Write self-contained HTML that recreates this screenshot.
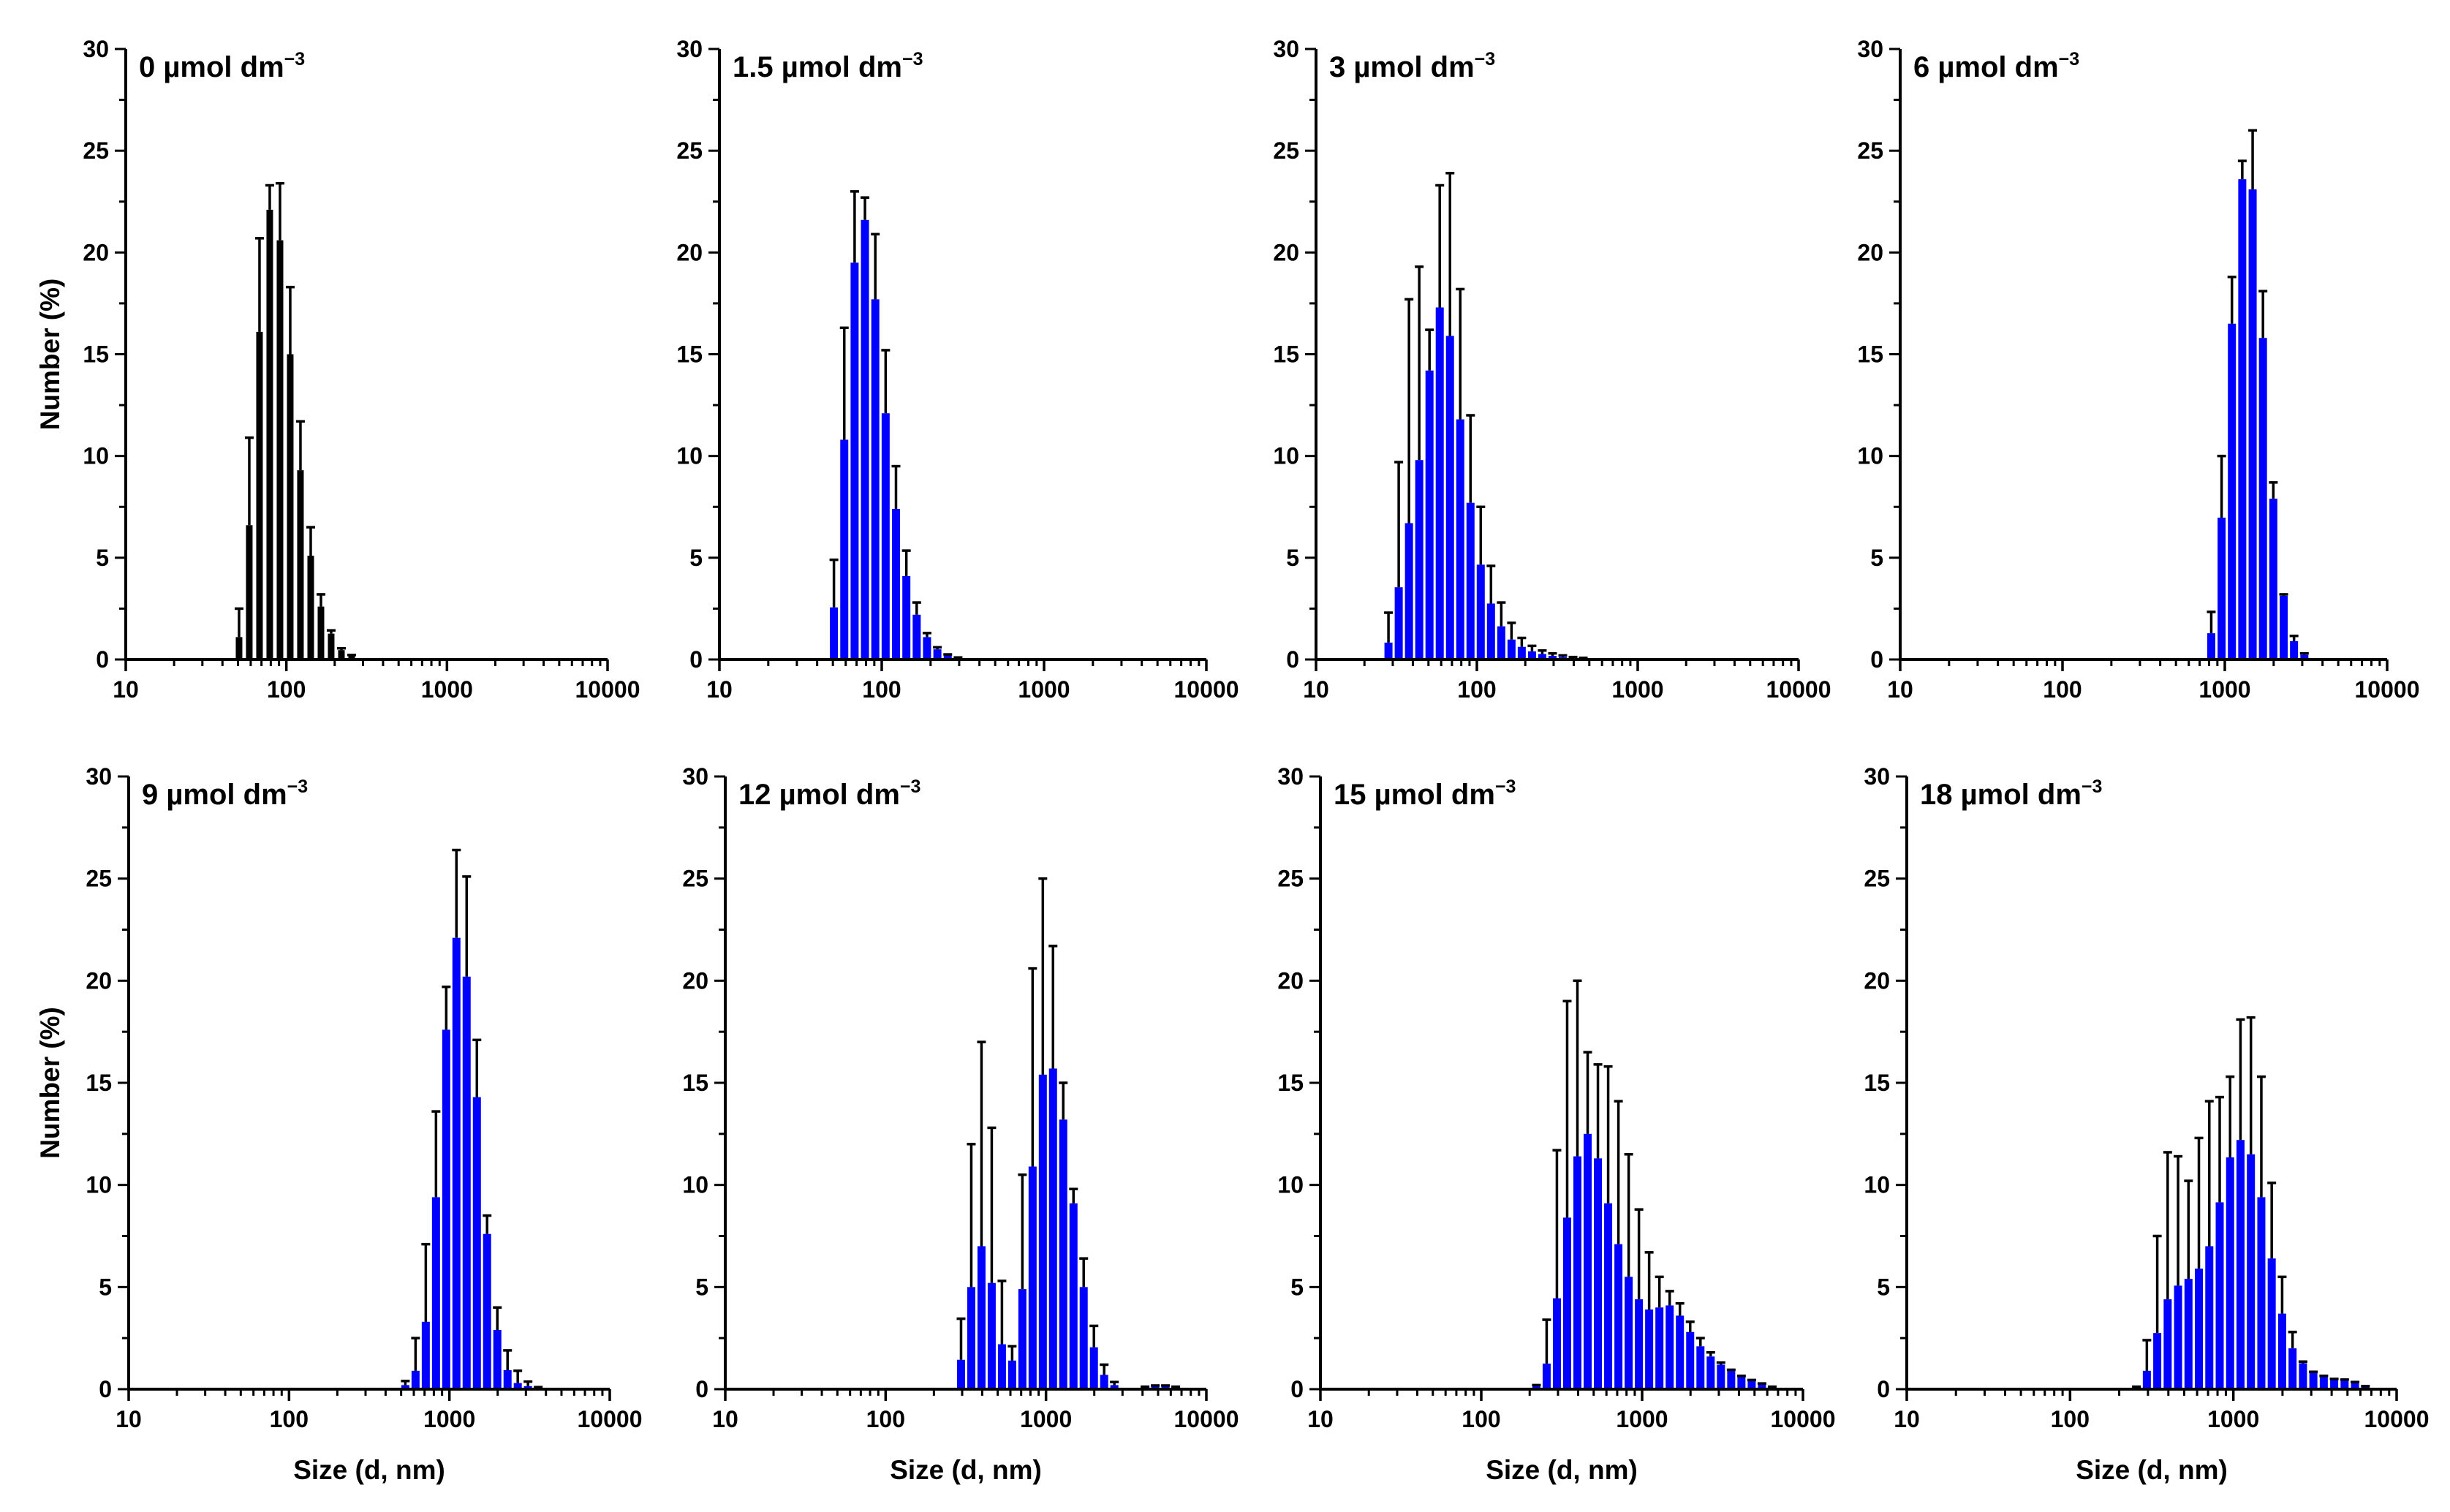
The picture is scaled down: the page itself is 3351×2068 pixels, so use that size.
<!DOCTYPE html>
<html><head><meta charset="utf-8"><style>
html,body{margin:0;padding:0;background:#fff;}
svg{display:block;font-family:"Liberation Sans",Arial,sans-serif;font-weight:bold;}
</style></head><body>
<svg id="fig" width="3351" height="2068" viewBox="0 0 3351 2068" xmlns="http://www.w3.org/2000/svg"></svg>
<script>
// ---- data (size bins in nm, Number %, upper error-bar values) ----
const p1Sizes=[50.75,58.77,68.06,78.82,91.28,105.7,122.4,141.8,164.2,190.1,220.2,255.0,295.3];
const p1Values=[1.1,6.6,16.1,22.1,20.6,15.0,9.3,5.1,2.6,1.27,0.46,0.2,0.05];
const p1Upper=[2.5,10.9,20.7,23.3,23.4,18.3,11.7,6.5,3.2,1.43,0.55,0.22,0.05];

const p2Sizes=[50.75,58.77,68.06,78.82,91.28,105.7,122.4,141.8,164.2,190.1,220.2,255.0,295.3];
const p2Values=[2.56,10.8,19.5,21.6,17.7,12.1,7.4,4.1,2.2,1.1,0.5,0.2,0.1];
const p2Upper=[4.9,16.3,23.0,22.7,20.9,15.2,9.5,5.35,2.8,1.3,0.6,0.25,0.1];

const p3Sizes=[28.21,32.67,37.84,43.82,50.75,58.77,68.06,78.82,91.28,105.7,122.4,141.8,164.2,190.1,220.2,255.0,295.3,342.0,396.1,458.7,531.2];
const p3Values=[0.83,3.55,6.7,9.8,14.2,17.3,15.9,11.8,7.7,4.66,2.75,1.63,0.98,0.62,0.4,0.27,0.18,0.12,0.09,0.06,0.03];
const p3Upper=[2.3,9.7,17.7,19.3,16.2,23.3,23.9,18.2,12.0,7.5,4.6,2.8,1.8,1.06,0.67,0.44,0.3,0.2,0.12,0.08,0.04];

const p4Sizes=[825.0,955.4,1106,1281,1484,1718,1990,2305,2669,3091];
const p4Values=[1.29,6.97,16.5,23.6,23.1,15.8,7.9,3.13,0.9,0.23];
const p4Upper=[2.34,10.0,18.8,24.5,26.0,18.1,8.7,3.2,1.16,0.3];

const p5Sizes=[531.2,615.1,712.4,825.0,955.4,1106,1281,1484,1718,1990,2305,2669,3091,3580,4145];
const p5Values=[0.2,0.9,3.3,9.4,17.6,22.1,20.2,14.3,7.6,2.9,0.93,0.3,0.15,0.06,0.02];
const p5Upper=[0.4,2.5,7.1,13.6,19.7,26.4,25.1,17.1,8.5,4.0,1.9,0.9,0.37,0.1,0.03];

const p6Sizes=[295.3,342.0,396.1,458.7,531.2,615.1,712.4,825.0,955.4,1106,1281,1484,1718,1990,2305,2669,3091,3580,4145,4801,5560,6439];
const p6Values=[1.44,5.0,7.0,5.2,2.2,1.4,4.9,10.9,15.4,15.7,13.2,9.1,5.0,2.05,0.7,0.2,0.03,0.03,0.1,0.15,0.15,0.1];
const p6Upper=[3.45,12.0,17.0,12.8,5.3,2.1,10.5,20.6,25.0,21.7,15.0,9.8,6.4,3.1,1.2,0.35,0.05,0.05,0.12,0.18,0.18,0.12];

const p7Sizes=[220.2,255.0,295.3,342.0,396.1,458.7,531.2,615.1,712.4,825.0,955.4,1106,1281,1484,1718,1990,2305,2669,3091,3580,4145,4801,5560,6439];
const p7Values=[0.15,1.25,4.45,8.4,11.4,12.5,11.3,9.1,7.1,5.5,4.4,3.9,4.0,4.1,3.6,2.8,2.1,1.6,1.2,0.9,0.6,0.4,0.25,0.1];
const p7Upper=[0.2,3.4,11.7,19.0,20.0,16.5,15.9,15.8,14.1,11.5,8.8,6.7,5.5,4.8,4.2,3.3,2.5,1.8,1.3,0.95,0.65,0.45,0.28,0.12];

const p8Sizes=[255.0,295.3,342.0,396.1,458.7,531.2,615.1,712.4,825.0,955.4,1106,1281,1484,1718,1990,2305,2669,3091,3580,4145,4801,5560,6439];
const p8Values=[0.1,0.9,2.75,4.4,5.07,5.4,5.9,7.0,9.15,11.35,12.2,11.5,9.4,6.4,3.7,2.0,1.27,0.8,0.6,0.45,0.42,0.3,0.12];
const p8Upper=[0.12,2.4,7.5,11.6,11.4,10.2,12.3,14.1,14.3,15.3,18.1,18.2,15.3,10.1,5.5,2.8,1.35,0.85,0.65,0.5,0.47,0.35,0.15];

const panelTitles=["0","1.5","3","6","9","12","15","18"];
const xTickLabels=["10","100","1000","10000"];
const yTickLabels=["0","5","10","15","20","25","30"];

const NS="http://www.w3.org/2000/svg";
const svg=document.getElementById('fig');
function mk(tag,attrs,parent){const e=document.createElementNS(NS,tag);for(const k in attrs)e.setAttribute(k,attrs[k]);(parent||svg).appendChild(e);return e;}

const panels=[
 {x0:172,x1:831,y0:902,y1:67,s:p1Sizes,v:p1Values,u:p1Upper,color:"#000000",bw:9,ylab:true,xlab:false},
 {x0:984,x1:1650,y0:902,y1:67,s:p2Sizes,v:p2Values,u:p2Upper,color:"#0000ff",bw:11,ylab:false,xlab:false},
 {x0:1800,x1:2460,y0:902,y1:67,s:p3Sizes,v:p3Values,u:p3Upper,color:"#0000ff",bw:11,ylab:false,xlab:false},
 {x0:2599,x1:3265,y0:902,y1:67,s:p4Sizes,v:p4Values,u:p4Upper,color:"#0000ff",bw:11,ylab:false,xlab:false},
 {x0:176,x1:834,y0:1900,y1:1062,s:p5Sizes,v:p5Values,u:p5Upper,color:"#0000ff",bw:11,ylab:true,xlab:true},
 {x0:992,x1:1650,y0:1900,y1:1062,s:p6Sizes,v:p6Values,u:p6Upper,color:"#0000ff",bw:11,ylab:false,xlab:true},
 {x0:1806,x1:2466,y0:1900,y1:1062,s:p7Sizes,v:p7Values,u:p7Upper,color:"#0000ff",bw:11,ylab:false,xlab:true},
 {x0:2608,x1:3278,y0:1900,y1:1062,s:p8Sizes,v:p8Values,u:p8Upper,color:"#0000ff",bw:11,ylab:false,xlab:true}
];

panels.forEach((p,pi)=>{
 const g=mk('g',{});
 
 
 const xs=v=>p.x0+(Math.log10(v)-1)/3*(p.x1-p.x0);
 const ys=v=>p.y0-v/30*(p.y0-p.y1);
 p.s.forEach((sz,i)=>{
  const cx=xs(sz), top=ys(p.v[i]);
  const r=mk('rect',{x:cx-p.bw/2,y:top,width:p.bw,height:Math.max(0,p.y0-top),fill:p.color},g);
  
  
  const et=ys(p.u[i]);
  if(p.v[i]>0.05){
   const l=mk('line',{x1:cx,x2:cx,y1:top,y2:et,stroke:"#000","stroke-width":3.5},g);
   
   
   const c=mk('line',{x1:cx-6,x2:cx+6,y1:et,y2:et,stroke:"#000","stroke-width":3.5},g);
   
   
  }
 });
 const ax=mk('path',{d:`M${p.x0},${p.y1}V${p.y0}H${p.x1}`,stroke:"#000","stroke-width":4,fill:"none"},g);
 
 
 for(let k=0;k<=12;k++){
  const val=k*2.5, y=ys(val), major=(k%2===0);
  mk('line',{x1:p.x0-(major?15:9),x2:p.x0,y1:y,y2:y,stroke:"#000","stroke-width":3},g);
  if(major){
   const t=mk('text',{x:p.x0-23,y:y+11,"font-size":32,"text-anchor":"end",fill:"#000"},g);
   t.textContent=yTickLabels[k/2];
   
   
  }
 }
 for(let d=1;d<=4;d++){
  const xv=Math.pow(10,d), x=xs(xv);
  mk('line',{x1:x,x2:x,y1:p.y0,y2:p.y0+16,stroke:"#000","stroke-width":3.5},g);
  const t=mk('text',{x:x,y:p.y0+52,"font-size":32,"text-anchor":"middle",fill:"#000"},g);
  t.textContent=xTickLabels[d-1];
  
  
  if(d<4){for(let m=2;m<=9;m++){const xm=xs(m*xv);mk('line',{x1:xm,x2:xm,y1:p.y0,y2:p.y0+9,stroke:"#000","stroke-width":3},g);}}
 }
 const tt=mk('text',{x:p.x0+18,y:p.y1+38,"font-size":40,fill:"#000"},g);
 
 
 tt.appendChild(document.createTextNode(panelTitles[pi]+" \u00b5mol dm"));
 const sup=document.createElementNS(NS,'tspan');
 sup.setAttribute('font-size','25');sup.setAttribute('dy','-16');
 sup.textContent="\u22123";tt.appendChild(sup);
 if(p.ylab){
  const cy=(p.y0+p.y1)/2;
  const yl=mk('text',{x:0,y:0,"font-size":37,"text-anchor":"middle",fill:"#000",transform:`translate(81,${cy}) rotate(-90)`},g);
  yl.textContent="Number (%)";
  
  
 }
 if(p.xlab){
  const xl=mk('text',{x:(p.x0+p.x1)/2,y:p.y0+123,"font-size":37,"text-anchor":"middle",fill:"#000"},g);
  xl.textContent="Size (d, nm)";
  
  
 }
});
</script>
</body></html>
